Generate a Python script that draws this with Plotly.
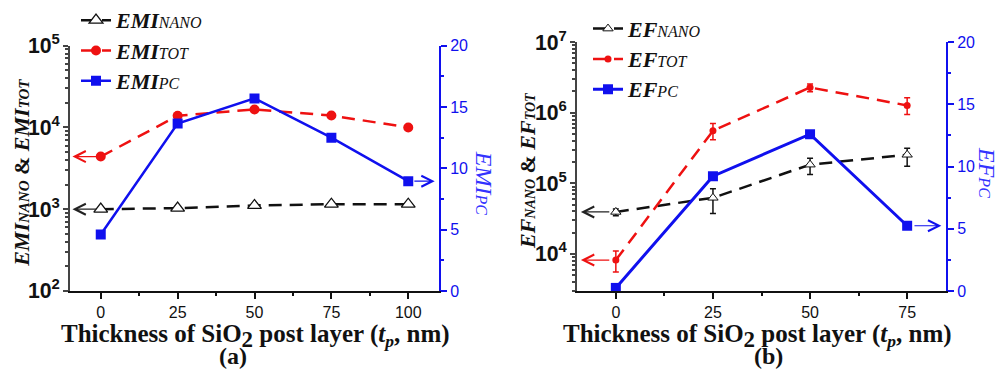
import math
import plotly.graph_objects as go

# ---------------- data ----------------
thickness_a = [0, 25, 50, 75, 100]
emi_nano = [1000, 1030, 1110, 1150, 1150]
emi_tot = [4400, 13900, 16600, 14000, 10000]
emi_pc = [4.6, 13.65, 15.7, 12.5, 8.95]

thickness_b = [0, 25, 50, 75]
ef_nano = [39400, 62400, 184000, 254000]
ef_nano_err_plus = [4100, 21300, 43000, 60000]
ef_nano_err_minus = [4700, 24900, 50000, 79000]
ef_tot = [8200, 556000, 2280000, 1270000]
ef_tot_err_plus = [2800, 147000, 280000, 360000]
ef_tot_err_minus = [2640, 142000, 290000, 326000]
ef_pc = [0.24, 9.22, 12.6, 5.24]

x_ticks_a = [0, 25, 50, 75, 100]
x_ticks_b = [0, 25, 50, 75]
right_ticks = [0, 5, 10, 15, 20]

# ---------------- style ----------------
SERIF = "Liberation Serif"
SANS = "Liberation Sans"
BLACK = "#111111"
RED = "#ee1111"
BLUE = "#1010ee"
DASH = "13px,8px"


def lab(main, sub, big=22, small=16):
    return (f"<span style='font-size:{big}px'><b><i>{main}</i></b></span>"
            f"<span style='font-size:{small}px'><i>{sub}</i></span>")


fig = go.Figure()

# panel (a)
fig.add_trace(go.Scatter(
    x=thickness_a, y=emi_nano, mode="lines+markers", name=lab("EMI", "NANO"),
    line=dict(color=BLACK, width=2.5, dash=DASH),
    marker=dict(symbol="triangle-up", size=12, color="white", line=dict(color=BLACK, width=1.3)),
    xaxis="x", yaxis="y", legend="legend"))
fig.add_trace(go.Scatter(
    x=thickness_a, y=emi_tot, mode="lines+markers", name=lab("EMI", "TOT"),
    line=dict(color=RED, width=2.5, dash=DASH),
    marker=dict(symbol="circle", size=10, color=RED),
    xaxis="x", yaxis="y", legend="legend"))
fig.add_trace(go.Scatter(
    x=thickness_a, y=emi_pc, mode="lines+markers", name=lab("EMI", "PC"),
    line=dict(color=BLUE, width=2.5),
    marker=dict(symbol="square", size=10, color=BLUE),
    xaxis="x", yaxis="y2", legend="legend"))

# panel (b)
fig.add_trace(go.Scatter(
    x=thickness_b, y=ef_nano, mode="lines+markers", name=lab("EF", "NANO"),
    line=dict(color=BLACK, width=2.5, dash=DASH),
    marker=dict(symbol="triangle-up", size=9, color="white", line=dict(color=BLACK, width=1)),
    error_y=dict(type="data", symmetric=False, array=ef_nano_err_plus,
                 arrayminus=ef_nano_err_minus, color=BLACK, thickness=1.5, width=3),
    xaxis="x2", yaxis="y3", legend="legend2"))
fig.add_trace(go.Scatter(
    x=thickness_b, y=ef_tot, mode="lines+markers", name=lab("EF", "TOT"),
    line=dict(color=RED, width=2.5, dash=DASH),
    marker=dict(symbol="circle", size=7, color=RED),
    error_y=dict(type="data", symmetric=False, array=ef_tot_err_plus,
                 arrayminus=ef_tot_err_minus, color=RED, thickness=1.5, width=3),
    xaxis="x2", yaxis="y3", legend="legend2"))
fig.add_trace(go.Scatter(
    x=thickness_b, y=ef_pc, mode="lines+markers", name=lab("EF", "PC"),
    line=dict(color=BLUE, width=3),
    marker=dict(symbol="square", size=10, color=BLUE),
    xaxis="x2", yaxis="y4", legend="legend2"))

tickfont = dict(family=SANS, size=16, color=BLACK)
bluefont = dict(family=SANS, size=16, color=BLUE)

common_x = dict(showline=True, linecolor=BLACK, linewidth=1.5, ticks="outside", ticklen=6,
                tickwidth=1.5, tickcolor=BLACK, showgrid=False, zeroline=False,
                tickfont=tickfont, tickprefix="<b>", ticksuffix="</b>",
                minor=dict(ticks="outside", ticklen=3, tickcolor=BLACK, dtick=12.5, tick0=0, showgrid=False))
common_log = dict(type="log", showline=True, linecolor="#444444", linewidth=1.5, ticks="outside",
                  ticklen=5, tickwidth=1.5, tickcolor="#444444", showgrid=False, zeroline=False,
                  dtick=1, exponentformat="power", tickfont=dict(family=SANS, size=17, color=BLACK),
                  tickprefix="<b>", ticksuffix="</b>",
                  minor=dict(ticks="outside", ticklen=3, tickcolor="#444444", showgrid=False))
common_right = dict(overlaying=None, side="right", range=[0, 20], tickvals=right_ticks,
                    showline=True, linecolor=BLUE, linewidth=2, ticks="outside", ticklen=6,
                    tickwidth=1.5, tickcolor=BLUE, showgrid=False, zeroline=False,
                    tickfont=bluefont, tickprefix="<b>", ticksuffix="</b>",
                    minor=dict(ticks="outside", ticklen=3, tickcolor=BLUE, dtick=2.5, showgrid=False))

fig.update_layout(
    width=1000, height=375, margin=dict(l=0, r=0, t=0, b=0),
    paper_bgcolor="white", plot_bgcolor="white",
    xaxis=dict(domain=[0.070, 0.439], range=[-10, 110], tickvals=x_ticks_a, anchor="y", **common_x),
    yaxis=dict(domain=[0.2133, 0.9387], range=[2, 5], anchor="x", **common_log),
    yaxis2=dict(domain=[0.2133, 0.9387], anchor="x", **{**common_right, "overlaying": "y"}),
    xaxis2=dict(domain=[0.577, 0.946], range=[-10, 85], tickvals=x_ticks_b, anchor="y3", **common_x),
    yaxis3=dict(domain=[0.2133, 0.9493], range=[math.log10(3000), 7], anchor="x2", **common_log),
    yaxis4=dict(domain=[0.2133, 0.9493], anchor="x2", **{**common_right, "overlaying": "y3"}),
    legend=dict(x=0.076, y=1.074, xanchor="left", yanchor="top", bgcolor="rgba(0,0,0,0)",
                font=dict(family=SERIF, size=21, color=BLACK), tracegroupgap=0, itemwidth=30),
    legend2=dict(x=0.588, y=1.049, xanchor="left", yanchor="top", bgcolor="rgba(0,0,0,0)",
                 font=dict(family=SERIF, size=21, color=BLACK), tracegroupgap=0, itemwidth=30),
    showlegend=True,
)

ann = []


def arrow(xref, yref, x_head, x_tail, yv, color):
    ann.append(dict(xref=xref, yref=yref, axref=xref, ayref=yref, x=x_head, y=yv,
                    ax=x_tail, ay=yv, text="", showarrow=True, arrowhead=5, arrowsize=1.8,
                    arrowwidth=1.2, arrowcolor=color))


arrow("x", "y", -9.2, thickness_a[0] - 1, math.log10(emi_nano[0]), "#222222")
arrow("x", "y", -9.2, thickness_a[0] - 1, math.log10(emi_tot[0]), RED)
arrow("x", "y2", 108.6, thickness_a[-1] + 1.5, emi_pc[-1], BLUE)
arrow("x2", "y3", -9.0, thickness_b[0] - 1.3, math.log10(ef_nano[0]), "#222222")
arrow("x2", "y3", -9.0, thickness_b[0] - 1.3, math.log10(ef_tot[0]), RED)
arrow("x2", "y4", 83.8, thickness_b[-1] + 1.5, ef_pc[-1], BLUE)


def text(x, y, s, size=22, color=BLACK, angle=0):
    ann.append(dict(xref="paper", yref="paper", x=x, y=y, text=s, showarrow=False,
                    textangle=angle, xanchor="center", yanchor="middle",
                    font=dict(family=SERIF, size=size, color=color)))


def ytitle(main, s1, s2, small=15):
    return (f"<b><i>{main}</i></b><span style='font-size:{small}px'><b><i>{s1}</i></b></span>"
            f"<b> &amp; </b><b><i>{main}</i></b><span style='font-size:{small}px'><b><i>{s2}</i></b></span>")


text(0.022, 0.5627, ytitle("EMI", "NANO", "TOT", small=15), size=22, angle=-90)
text(0.527, 0.568, ytitle("EF", "NANO", "TOT", small=14), size=22, angle=-90)
text(0.484, 0.5333, "<i>EMI</i><span style='font-size:16px'><i>PC</i></span>", size=24, color="#3333ff", angle=90)
text(0.987, 0.565, "<i>EF</i><span style='font-size:16px'><i>PC</i></span>", size=24, color="#3333ff", angle=90)

xt = ("<b>Thickness of SiO<sub><span style='font-size:23px'>2</span></sub> post layer "
      "(<i>t<sub>p</sub></i>, nm)</b>")
text(0.255, 0.08, xt, size=25)
text(0.757, 0.08, xt, size=25)
text(0.233, 0.022, "<b>(a)</b>", size=24)
text(0.768, 0.022, "<b>(b)</b>", size=24)

fig.update_layout(annotations=ann)

fig.write_html("out.html")
